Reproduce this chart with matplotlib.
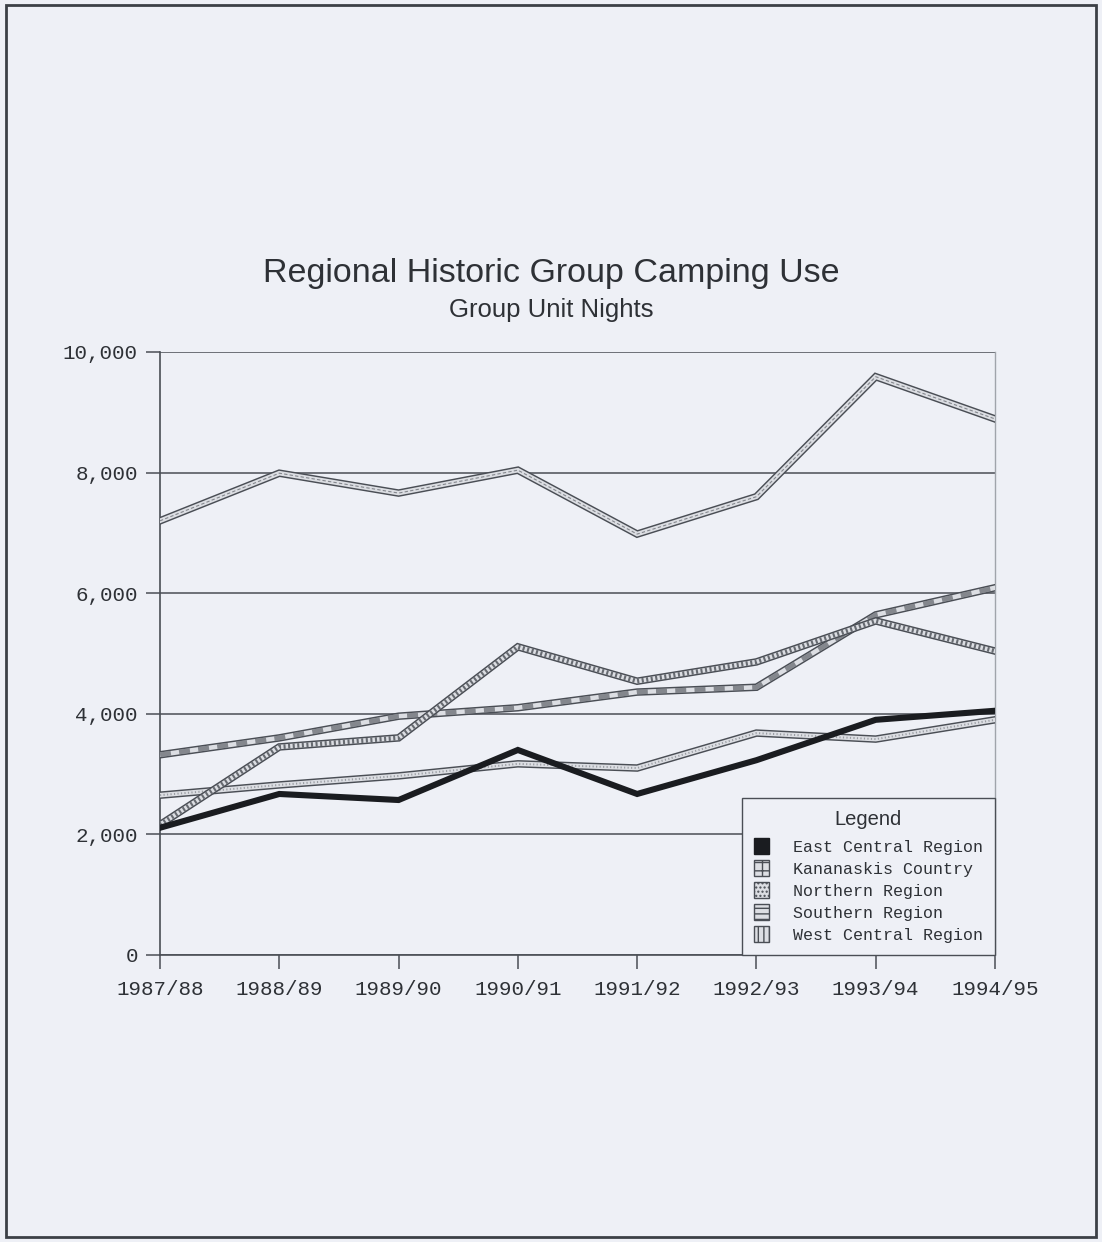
import numpy as np
import matplotlib
matplotlib.use("Agg")
import matplotlib.pyplot as plt
from matplotlib.patches import Patch, Rectangle
from matplotlib.ticker import FuncFormatter

# data (group unit nights)
years = ["1987/88", "1988/89", "1989/90", "1990/91", "1991/92", "1992/93", "1993/94", "1994/95"]
east_central = [2110, 2670, 2570, 3400, 2670, 3230, 3900, 4050]
kananaskis = [3320, 3600, 3960, 4100, 4360, 4440, 5640, 6090]
northern = [2650, 2820, 2970, 3170, 3100, 3680, 3580, 3900]
southern = [7200, 7990, 7660, 8040, 6980, 7600, 9590, 8890]
west_central = [2160, 3450, 3600, 5110, 4540, 4860, 5540, 5040]

legend_names = ["East Central Region", "Kananaskis Country", "Northern Region",
                "Southern Region", "West Central Region"]

BG = "#eef0f6"
DARK = "#4a4e55"
LIGHT = "#dcdee3"
MONO = "Liberation Mono"
SANS = "Liberation Sans"

fig = plt.figure(figsize=(11.02, 12.42), dpi=100, facecolor=BG)
ax = fig.add_axes([0.1452, 0.2311, 0.7577, 0.4855], facecolor=BG)

x = np.arange(len(years))


def ribbon(vals, z, overlay=None):
    ax.plot(x, vals, color=DARK, lw=5.4, solid_joinstyle="miter", zorder=z)
    ax.plot(x, vals, color=LIGHT, lw=3.3, solid_joinstyle="miter", zorder=z + 0.1)
    if overlay is not None:
        ax.plot(x, vals, color=DARK, zorder=z + 0.2, **overlay)


# the ribbons carry the same fill patterns as the legend swatches
ribbon(southern, 3, dict(lw=0.8, dashes=(3, 2), alpha=0.6))
ribbon(northern, 4, dict(lw=1.4, dashes=(0.6, 1.2), alpha=0.45))
ribbon(kananaskis, 5, dict(lw=3.3, dashes=(2.4, 1.8), alpha=0.6))
ribbon(west_central, 6, dict(lw=3.3, dashes=(0.45, 0.55), alpha=0.8))
ax.plot(x, east_central, color="#1a1c20", lw=4.4, solid_joinstyle="miter", zorder=7)

ax.set_xlim(0, 7)
ax.set_ylim(0, 10000)
ax.set_yticks(np.arange(0, 10001, 2000))
ax.yaxis.set_major_formatter(FuncFormatter(lambda v, p: f"{int(v):,}"))
ax.set_xticks(x)
ax.set_xticklabels(years)
ax.grid(axis="y", color=DARK, lw=1.1)
ax.set_axisbelow(True)

for side in ["left", "bottom"]:
    ax.spines[side].set_color(DARK)
    ax.spines[side].set_linewidth(1.2)
ax.spines["top"].set_visible(False)
ax.spines["right"].set_color("#a0a4ab")
ax.spines["right"].set_linewidth(1.0)

ax.tick_params(axis="both", direction="out", length=10, width=1.1, color=DARK,
               labelsize=15, labelcolor="#2e3136", pad=6)
ax.tick_params(axis="x", pad=8)
for lab in ax.get_xticklabels() + ax.get_yticklabels():
    lab.set_fontfamily(MONO)

# legend with patterned swatches
hatches = [None, "++", "....", "---", "|||"]
handles = []
for i, name in enumerate(legend_names):
    if i == 0:
        handles.append(Patch(facecolor="#1a1c20", edgecolor="#1a1c20", label=name))
    else:
        handles.append(Patch(facecolor=LIGHT, edgecolor=DARK, hatch=hatches[i], label=name))

leg = ax.legend(handles=handles, loc="lower right", bbox_to_anchor=(1.0, 0.0),
                borderaxespad=0, frameon=True, fancybox=False, title="Legend",
                prop={"family": MONO, "size": 12}, handlelength=0.9, handleheight=1.1,
                handletextpad=1.45, labelspacing=0.32, borderpad=0.72)
leg._legend_box.sep = 7  # a bit more room under the "Legend" title
leg.get_frame().set_edgecolor(DARK)
leg.get_frame().set_facecolor(BG)
leg.get_frame().set_linewidth(1.0)
leg.get_frame().set_alpha(1)
leg.get_title().set_fontfamily(SANS)
leg.get_title().set_fontsize(14.5)
leg.get_title().set_color("#2e3136")
leg.set_zorder(10)
for t in leg.get_texts():
    t.set_color("#2e3136")

fig.text(0.5, 0.780, "Regional Historic Group Camping Use", ha="center", va="center",
         fontsize=24.5, family=SANS, color="#2e3136")
fig.text(0.5, 0.750, "Group Unit Nights", ha="center", va="center",
         fontsize=18.5, family=SANS, color="#2e3136")

# page border
fig.patches.append(Rectangle((0.005, 0.004), 0.990, 0.992, transform=fig.transFigure,
                             fill=False, edgecolor="#3c4046", lw=2))

fig.savefig("out.png", dpi=100, facecolor=BG)
